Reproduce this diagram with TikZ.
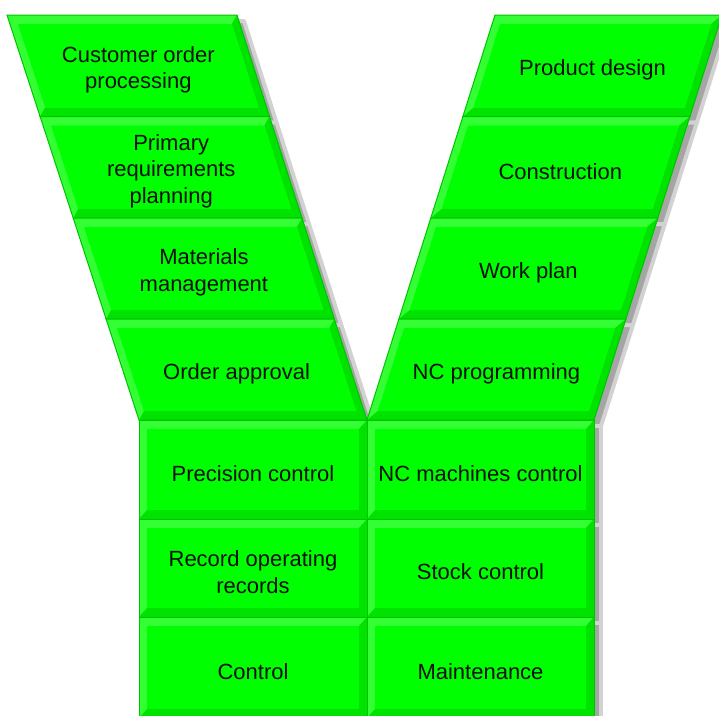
\documentclass[tikz,border=0pt]{standalone}
\usepackage{fontspec}
\setmainfont{Liberation Sans}
\definecolor{cellmain}{RGB}{0,255,0}
\definecolor{celllight}{RGB}{52,255,52}
\definecolor{celldark}{RGB}{0,226,0}
\definecolor{cellline}{RGB}{0,195,0}
\definecolor{celltxt}{RGB}{15,15,15}
\definecolor{shadowin}{RGB}{165,165,165}
\definecolor{shadowout}{RGB}{210,210,210}
\tikzset{
  cellshadowstyle/.style={shift={(7,6)}, fill=shadowin, draw=shadowout,
      line width=4pt, line join=round},
  celltext/.style={align=center, text=celltxt, inner sep=0pt,
      font=\fontsize{22pt}{26.5pt}\selectfont}
}
% #1 xTL, #2 xTR, #3 xBR, #4 xBL, #5 ytop, #6 ybot
\newcommand\vcellshadow[6]{\path[cellshadowstyle] (#1,#5) -- (#2,#5) -- (#3,#6) -- (#4,#6) -- cycle;}
\newcommand\vcellbox[8]{%
  \pgfmathsetmacro\ta{9/(#6-#5)}%
  \pgfmathsetmacro\itl{#1+(#4-#1)*\ta+8}%
  \pgfmathsetmacro\itr{#2+(#3-#2)*\ta-8}%
  \pgfmathsetmacro\ibr{#2+(#3-#2)*(1-\ta)-8}%
  \pgfmathsetmacro\ibl{#1+(#4-#1)*(1-\ta)+8}%
  \pgfmathsetmacro\iyt{#5+9}%
  \pgfmathsetmacro\iyb{#6-9}%
  \pgfmathsetmacro\cx{(#1+#2+#3+#4)/4}%
  \pgfmathsetmacro\cy{(#5+#6)/2+4}%
  \fill[celllight] (#1,#5) -- (#2,#5) -- (#3,#6) -- (#4,#6) -- cycle;
  \fill[celldark] (#2,#5) -- (#3,#6) -- (#4,#6) -- (\ibl,\iyb) -- (\ibr,\iyb) -- (\itr,\iyt) -- cycle;
  \fill[cellmain] (\itl,\iyt) -- (\itr,\iyt) -- (\ibr,\iyb) -- (\ibl,\iyb) -- cycle;
  \draw[cellline, line width=1pt] (#1,#5) -- (#2,#5) -- (#3,#6) -- (#4,#6) -- cycle;
  \node[celltext] (#7) at (\cx,\cy) {#8};
}
\begin{document}
\begin{tikzpicture}[x=1pt,y=-1pt]
\clip (0,0) rectangle (719,715);
\fill[white] (0,0) rectangle (719,715);
% shadows
\vcellshadow{7}{237}{269.5}{40.1}{15}{116.5}
\vcellshadow{40.1}{269.5}{302}{73.2}{116.5}{218}
\vcellshadow{73.2}{302}{334.3}{106.1}{218}{319}
\vcellshadow{106.1}{334.3}{367}{139}{319}{420}
\vcellshadow{495}{722}{689.9}{462.9}{15}{116.5}
\vcellshadow{462.9}{689.9}{657.8}{430.8}{116.5}{218}
\vcellshadow{430.8}{657.8}{625.9}{398.9}{218}{319}
\vcellshadow{398.9}{625.9}{594}{367}{319}{420}
\vcellshadow{139}{367}{367}{139}{420}{519}
\vcellshadow{139}{367}{367}{139}{519}{617}
\vcellshadow{139}{367}{367}{139}{617}{718}
\vcellshadow{367}{594}{594}{367}{420}{519}
\vcellshadow{367}{594}{594}{367}{519}{617}
\vcellshadow{367}{594}{594}{367}{617}{718}
% left arm
\vcellbox{7}{237}{269.5}{40.1}{15}{116.5}{cop}{Customer order\\processing}
\vcellbox{40.1}{269.5}{302}{73.2}{116.5}{218}{prp}{Primary\\requirements\\planning}
\vcellbox{73.2}{302}{334.3}{106.1}{218}{319}{mm}{Materials\\management}
\vcellbox{106.1}{334.3}{367}{139}{319}{420}{oa}{Order approval}
% right arm
\vcellbox{495}{722}{689.9}{462.9}{15}{116.5}{pd}{Product design}
\vcellbox{462.9}{689.9}{657.8}{430.8}{116.5}{218}{con}{Construction}
\vcellbox{430.8}{657.8}{625.9}{398.9}{218}{319}{wp}{Work plan}
\vcellbox{398.9}{625.9}{594}{367}{319}{420}{ncp}{NC programming}
% stem
\vcellbox{139}{367}{367}{139}{420}{519}{pc}{Precision control}
\vcellbox{139}{367}{367}{139}{519}{617}{ror}{Record operating\\records}
\vcellbox{139}{367}{367}{139}{617}{718}{ctl}{Control}
\vcellbox{367}{594}{594}{367}{420}{519}{ncm}{NC machines control}
\vcellbox{367}{594}{594}{367}{519}{617}{sc}{Stock control}
\vcellbox{367}{594}{594}{367}{617}{718}{mt}{Maintenance}
\end{tikzpicture}
\end{document}
